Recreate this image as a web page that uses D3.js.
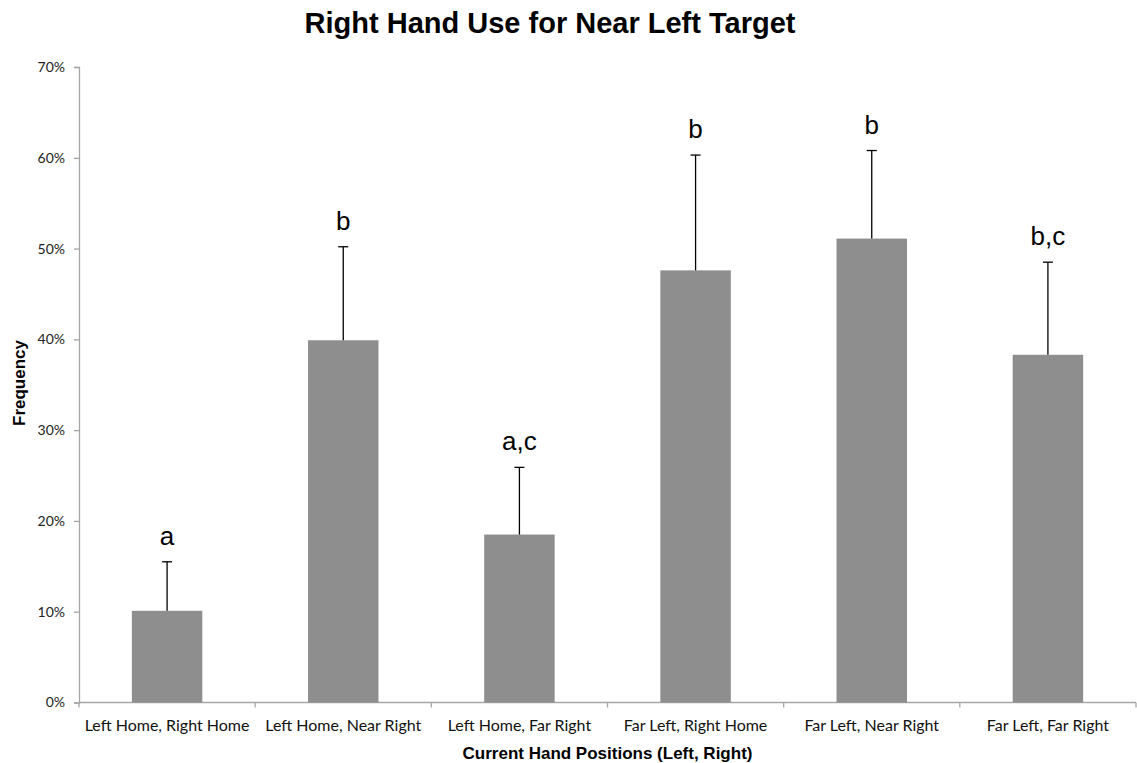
<!DOCTYPE html>
<html>
<head>
<meta charset="utf-8">
<script src="https://cdn.jsdelivr.net/npm/d3@7"></script>
<style>
  html, body { margin: 0; padding: 0; background: #fff; }
  svg { display: block; }
</style>
</head>
<body>
<svg id="chart" width="1137" height="763"></svg>
<script>
// Hand-position conditions and the share of right-hand use for each
const categories = [
  "Left Home, Right Home",
  "Left Home, Near Right",
  "Left Home, Far Right",
  "Far Left, Right Home",
  "Far Left, Near Right",
  "Far Left, Far Right"
];
const frequency = [0.101, 0.399, 0.185, 0.476, 0.511, 0.383];
const errorUpper = [0.155, 0.502, 0.259, 0.603, 0.608, 0.485];
const groupLabels = ["a", "b", "a,c", "b", "b", "b,c"];
const yTicks = [0, 0.1, 0.2, 0.3, 0.4, 0.5, 0.6, 0.7];

const svg = d3.select("#chart");
const plot = { left: 79, right: 1136, top: 67, bottom: 702.5 };

const x = d3.scaleBand().domain(categories).range([plot.left, plot.right]).paddingInner(0.6).paddingOuter(0.3);
const y = d3.scaleLinear().domain([0, 0.7]).range([plot.bottom, plot.top]);

const axisColor = "#a6a6a6";
const tickFont = "Lato, 'Open Sans', sans-serif";
const headFont = "'Liberation Sans', Arial, sans-serif";

// Title
svg.append("text")
  .attr("x", 550).attr("y", 33)
  .attr("text-anchor", "middle")
  .attr("font-family", headFont)
  .attr("font-weight", "bold").attr("font-size", 29)
  .text("Right Hand Use for Near Left Target");

// Y axis
const yAxis = svg.append("g")
  .attr("transform", `translate(${plot.left},0)`)
  .call(d3.axisLeft(y).tickValues(yTicks).tickFormat(d3.format(".0%")).tickSize(5).tickPadding(9));
yAxis.select(".domain").attr("stroke", axisColor).attr("stroke-width", 1.3);
yAxis.selectAll(".tick line").attr("stroke", axisColor).attr("stroke-width", 1.3);
yAxis.selectAll(".tick text")
  .attr("font-family", tickFont).attr("font-size", 14).attr("fill", "#222");

// X axis: ticks sit on the band boundaries
const xAxisG = svg.append("g").attr("transform", `translate(0,${plot.bottom})`);
xAxisG.append("line")
  .attr("x1", plot.left).attr("x2", plot.right)
  .attr("stroke", axisColor).attr("stroke-width", 1.3);
const step = x.step();
const boundaries = d3.range(categories.length + 1).map(i => x(categories[0]) - x.paddingInner() * step / 2 + i * step);
xAxisG.selectAll("line.boundary")
  .data(boundaries)
  .join("line")
  .attr("class", "boundary")
  .attr("x1", d => d).attr("x2", d => d)
  .attr("y1", 0).attr("y2", 5)
  .attr("stroke", axisColor).attr("stroke-width", 1.3);
xAxisG.selectAll("text.cat")
  .data(categories)
  .join("text")
  .attr("class", "cat")
  .attr("x", d => x(d) + x.bandwidth() / 2)
  .attr("y", 28.5)
  .attr("text-anchor", "middle")
  .attr("font-family", tickFont).attr("font-size", 16).attr("fill", "#111")
  .text(d => d);

// Axis titles
svg.append("text")
  .attr("x", (plot.left + plot.right) / 2).attr("y", 759)
  .attr("text-anchor", "middle")
  .attr("font-family", headFont)
  .attr("font-weight", "bold").attr("font-size", 17)
  .text("Current Hand Positions (Left, Right)");
svg.append("text")
  .attr("transform", "translate(24.5,383) rotate(-90)")
  .attr("text-anchor", "middle")
  .attr("font-family", headFont)
  .attr("font-weight", "bold").attr("font-size", 17)
  .text("Frequency");

const rows = categories.map((c, i) => ({ c, v: frequency[i], hi: errorUpper[i], lab: groupLabels[i] }));

// Bars
svg.append("g").selectAll("rect")
  .data(rows)
  .join("rect")
  .attr("x", d => x(d.c))
  .attr("y", d => y(d.v))
  .attr("width", x.bandwidth())
  .attr("height", d => y(0) - y(d.v))
  .attr("fill", "#8e8e8e");

// Upper error bars
const err = svg.append("g").attr("stroke", "#000").attr("stroke-width", 1.3);
err.selectAll("line.stem")
  .data(rows)
  .join("line")
  .attr("class", "stem")
  .attr("x1", d => x(d.c) + x.bandwidth() / 2).attr("x2", d => x(d.c) + x.bandwidth() / 2)
  .attr("y1", d => y(d.v)).attr("y2", d => y(d.hi));
err.selectAll("line.cap")
  .data(rows)
  .join("line")
  .attr("class", "cap")
  .attr("x1", d => x(d.c) + x.bandwidth() / 2 - 5).attr("x2", d => x(d.c) + x.bandwidth() / 2 + 5)
  .attr("y1", d => y(d.hi)).attr("y2", d => y(d.hi));

// Significance group letters
svg.append("g").selectAll("text")
  .data(rows)
  .join("text")
  .attr("x", d => x(d.c) + x.bandwidth() / 2)
  .attr("y", d => y(d.hi) - 17)
  .attr("text-anchor", "middle")
  .attr("font-family", headFont)
  .attr("font-size", 26)
  .text(d => d.lab);
</script>
</body>
</html>
